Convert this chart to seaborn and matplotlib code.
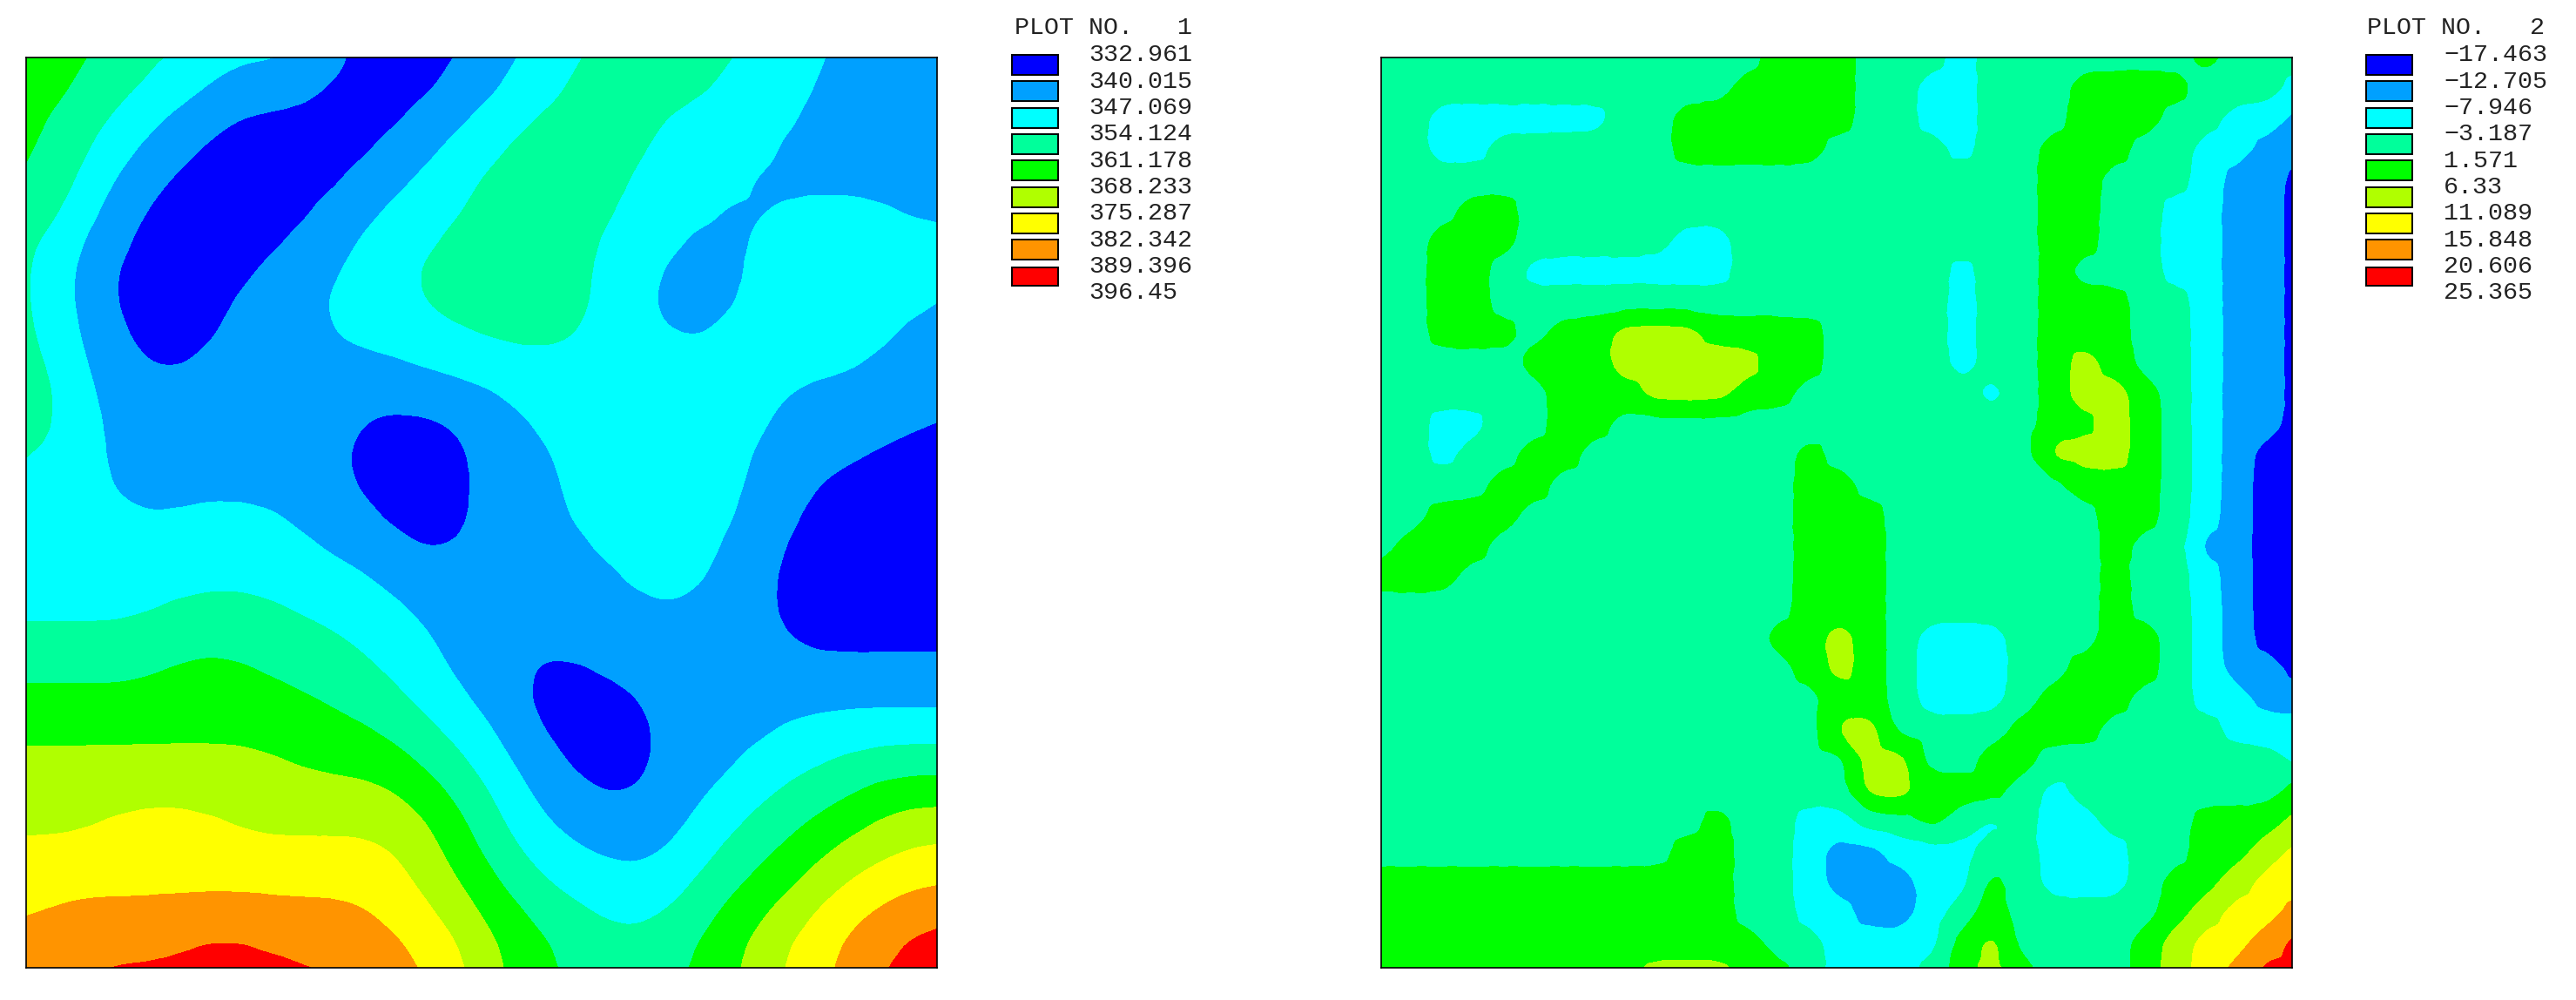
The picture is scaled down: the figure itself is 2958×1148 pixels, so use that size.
import numpy as np
import matplotlib
matplotlib.use("Agg")
import matplotlib.pyplot as plt
import matplotlib.tri as mtri
from matplotlib.patches import Rectangle
import seaborn as sns

W, H = 2958, 1148

BAND_COLOURS = ["#0000FF", "#00A0FF", "#00FFFF", "#00FF9B", "#00FF00",
                "#B0FF00", "#FFFF00", "#FF9400", "#FF0000"]

LEVELS_1 = [332.961, 340.015, 347.069, 354.124, 361.178, 368.233, 375.287, 382.342, 389.396, 396.45]
LABELS_1 = ["332.961", "340.015", "347.069", "354.124", "361.178", "368.233", "375.287", "382.342", "389.396", "396.45"]
LEVELS_2 = [-17.463, -12.705, -7.946, -3.187, 1.571, 6.33, 11.089, 15.848, 20.606, 25.365]
LABELS_2 = ["\u221217.463", "\u221212.705", "\u22127.946", "\u22123.187", "1.571", "6.33", "11.089", "15.848", "20.606", "25.365"]

# Contour band at each node of a 31 x 31 grid (0 = lowest band)
BANDS_1 = [
    "4443332222100001122333332221111",
    "4433221111000011223333322211111",
    "4332211000000112233332222211111",
    "4332110000001122333332222111111",
    "4321100000011223333322221111111",
    "3321000000112223333322211222211",
    "3211000001122233333222112222222",
    "3210000011122333333221112222222",
    "3210000111222333333221112222221",
    "3211000111222223333221122222211",
    "3311001111111222222222222222111",
    "3311111111111111222222222111111",
    "3321111111100001122222222111110",
    "3221111111100001112222221111000",
    "2221111111100001112222221100000",
    "2222122221110001112222221100000",
    "2222222222111001111222211000000",
    "2222222222221111111122211000000",
    "2222233332222111111112111000000",
    "3333333333322211111111111000000",
    "3333344433332211000111111111111",
    "4444444444333221100001111111111",
    "4444444444443322100001111222222",
    "5555555554444332110001112223333",
    "5555555555555433211001122333444",
    "5556666555555543211111223344555",
    "6666666666666543322111233445566",
    "6666666666666554322222334456666",
    "6777777777776654433222344566778",
    "7777778877777665443333445667788",
    "7788888888877765443333445667888",
]
BANDS_2 = [
    "3333333333333444333233333334333",
    "3333333333334444332233344443332",
    "3322222233444444332233344433221",
    "3322333333444443333233444332211",
    "3333333333333333333333443332110",
    "3334433333333333333333443322110",
    "3344433333223333333333443322110",
    "3344322222223333333233433322110",
    "3344333333333333333233444332110",
    "3344434455544443333233444332110",
    "3333344455555443333233454332110",
    "3333334445554433333323455432110",
    "3322334433333333333333445432110",
    "3323344333333343333333555432100",
    "3333443333333344333333344432100",
    "3344433333333344433333334432100",
    "3444333333333344433333334331100",
    "4443333333333344433333334332100",
    "3333333333333344433333334332100",
    "3333333333333445432223334432100",
    "3333333333333345432223344432110",
    "3333333333333334432223444332211",
    "3333333333333335533334443333222",
    "3333333333333333553344333333332",
    "3333333333333333554443233333334",
    "3333333333343322334323223334445",
    "3333333333443321122233222334456",
    "4444444444443321112243222344566",
    "4444444444443322112343333345667",
    "4444444444444332222453333456678",
    "4444444445554432223454333456788",
]

sns.set_theme(style="white")
plt.rcParams["font.family"] = ["Liberation Mono", "DejaVu Sans Mono"]
palette = sns.color_palette(BAND_COLOURS)


def smooth(z, kernel, passes):
    k = np.asarray(kernel, dtype=float)
    k = k / k.sum()
    pad = len(k) // 2
    for _ in range(passes):
        p = np.pad(z, pad, mode="edge")
        p = np.apply_along_axis(lambda v: np.convolve(v, k, mode="same"), 0, p)
        p = np.apply_along_axis(lambda v: np.convolve(v, k, mode="same"), 1, p)
        z = p[pad:-pad, pad:-pad]
    return z


def field(rows, levels):
    idx = np.array([[int(c) for c in r] for r in rows])
    lv = np.asarray(levels)
    return (lv[idx] + lv[idx + 1]) / 2.0


def panel(fig, box, rows, levels, kernel, passes):
    l, t, r, b = box
    ax = fig.add_axes([l / W, 1 - b / H, (r - l) / W, (b - t) / H])
    z = smooth(field(rows, levels), kernel, passes)
    n = z.shape[0]
    xx, yy = np.meshgrid(np.arange(n, dtype=float), np.arange(n, dtype=float))
    tri = mtri.Triangulation(xx.ravel(), yy.ravel())
    interp = mtri.CubicTriInterpolator(tri, z.ravel(), kind="geom")
    tri2, z2 = mtri.UniformTriRefiner(tri).refine_field(z.ravel(), triinterpolator=interp, subdiv=3)
    edges = [-1e9] + list(levels[1:-1]) + [1e9]
    ax.tricontourf(tri2, z2, levels=edges, colors=palette)
    ax.set_xlim(0, 29.8)
    ax.set_ylim(29.8, 0)
    ax.set_xticks([])
    ax.set_yticks([])
    for s in ax.spines.values():
        s.set_visible(True)
        s.set_color("black")
        s.set_linewidth(1.2)
    return ax


def legend(over, title, labels, sx, tx, title_x):
    over.text(title_x, 32, title, fontsize=20.4, color="#222222", va="center", ha="left")
    for k, lab in enumerate(labels):
        over.text(tx, 63.5 + 30.3 * k, lab, fontsize=20.4, color="#222222", va="center", ha="left")
    for k in range(9):
        top = 63 + 30.3 * k + (1.5 if k == 8 else 0)
        h = 23 if k < 8 else 21.5
        over.add_patch(Rectangle((sx, top), 53, h, facecolor=palette[k], edgecolor="black", linewidth=1.4))


fig = plt.figure(figsize=(W / 100, H / 100), dpi=100, facecolor="white")
panel(fig, (30, 66, 1076, 1111), BANDS_1, LEVELS_1, [1, 2, 1], 2)
panel(fig, (1586, 66, 2632, 1111), BANDS_2, LEVELS_2, [1, 6, 1], 1)

over = fig.add_axes([0, 0, 1, 1], facecolor="none")
over.set_xlim(0, W)
over.set_ylim(H, 0)
over.axis("off")
legend(over, "PLOT NO.   1", LABELS_1, 1162, 1250, 1165)
legend(over, "PLOT NO.   2", LABELS_2, 2717, 2806, 2718)

fig.savefig("out.png", dpi=100, facecolor="white")
